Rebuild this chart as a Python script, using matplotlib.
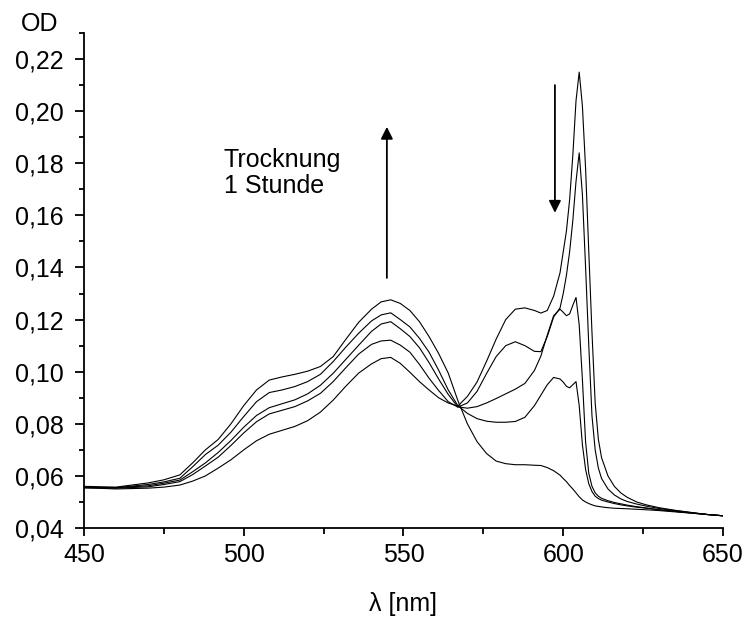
import matplotlib
matplotlib.use('Agg')
import matplotlib.pyplot as plt
from matplotlib.ticker import MultipleLocator, FuncFormatter

plt.rcParams['font.family'] = ['Liberation Sans', 'DejaVu Sans']

# wavelength grid [nm]
wavelength = [450, 460, 470, 475, 480, 484, 488, 492, 496, 500, 504, 508, 512, 516, 520,
              524, 528, 532, 536, 540, 543, 546, 549, 552, 555, 558, 561, 564, 567, 570,
              573, 576, 579, 582, 585, 588, 591, 593, 595, 597, 599, 600, 601, 602, 603,
              604, 605, 606, 607, 608, 609, 610, 611, 612, 614, 616, 618, 620, 623, 626,
              630, 635, 640, 645, 650]

# OD spectra (start -> after 1 h drying)
od_0h = [0.0555, 0.0550, 0.0553, 0.0557, 0.0565, 0.0580, 0.0600, 0.0630, 0.0662, 0.0700,
         0.0735, 0.0760, 0.0775, 0.0790, 0.0812, 0.0845, 0.0891, 0.0945, 0.0995, 0.1030,
         0.1050, 0.1055, 0.1032, 0.0998, 0.0962, 0.0930, 0.0900, 0.0880, 0.0868, 0.0905,
         0.0960, 0.1040, 0.1125, 0.1200, 0.1240, 0.1245, 0.1235, 0.1225, 0.1235, 0.1290,
         0.1380, 0.1460, 0.1540, 0.1660, 0.1830, 0.2040, 0.2150, 0.2020, 0.1780, 0.1460,
         0.1150, 0.0880, 0.0740, 0.0670, 0.0600, 0.0560, 0.0535, 0.0518, 0.0500, 0.0489,
         0.0478, 0.0468, 0.0460, 0.0452, 0.0447]
od_1 = [0.0555, 0.0553, 0.0558, 0.0567, 0.0578, 0.0605, 0.0638, 0.0672, 0.0717, 0.0765,
        0.0808, 0.0838, 0.0852, 0.0866, 0.0888, 0.0917, 0.0962, 0.1016, 0.1068, 0.1105,
        0.1118, 0.1121, 0.1102, 0.1075, 0.1028, 0.0975, 0.0928, 0.0885, 0.0864, 0.0880,
        0.0924, 0.0993, 0.1058, 0.1100, 0.1115, 0.1100, 0.1078, 0.1077, 0.1135, 0.1210,
        0.1245, 0.1300, 0.1370, 0.1460, 0.1580, 0.1730, 0.1840, 0.1680, 0.1400, 0.1100,
        0.0830, 0.0700, 0.0630, 0.0590, 0.0550, 0.0527, 0.0512, 0.0502, 0.0492, 0.0484,
        0.0475, 0.0467, 0.0459, 0.0452, 0.0447]
od_2 = [0.0555, 0.0555, 0.0562, 0.0572, 0.0584, 0.0616, 0.0650, 0.0690, 0.0736, 0.0787,
        0.0832, 0.0862, 0.0877, 0.0892, 0.0915, 0.0948, 0.0994, 0.1048, 0.1102, 0.1155,
        0.1183, 0.1192, 0.1165, 0.1135, 0.1092, 0.1035, 0.0972, 0.0913, 0.0865, 0.0860,
        0.0866, 0.0880, 0.0897, 0.0915, 0.0933, 0.0955, 0.1005, 0.1060, 0.1140, 0.1215,
        0.1240, 0.1228, 0.1215, 0.1222, 0.1255, 0.1285, 0.1180, 0.0970, 0.0730, 0.0610,
        0.0560, 0.0535, 0.0522, 0.0514, 0.0505, 0.0498, 0.0493, 0.0488, 0.0482, 0.0477,
        0.0470, 0.0464, 0.0458, 0.0452, 0.0447]
od_3 = [0.0555, 0.0555, 0.0567, 0.0577, 0.0591, 0.0635, 0.0682, 0.0718, 0.0768, 0.0828,
        0.0885, 0.0920, 0.0930, 0.0943, 0.0962, 0.0990, 0.1039, 0.1095, 0.1148, 0.1195,
        0.1218, 0.1226, 0.1200, 0.1172, 0.1128, 0.1075, 0.1006, 0.0930, 0.0870, 0.0840,
        0.0820, 0.0810, 0.0806, 0.0806, 0.0809, 0.0825, 0.0870, 0.0910, 0.0950, 0.0978,
        0.0972, 0.0960, 0.0944, 0.0938, 0.0950, 0.0962, 0.0870, 0.0720, 0.0625, 0.0570,
        0.0540, 0.0522, 0.0513, 0.0507, 0.0500, 0.0494, 0.0489, 0.0485, 0.0480, 0.0476,
        0.0470, 0.0464, 0.0458, 0.0452, 0.0447]
od_1h = [0.0560, 0.0557, 0.0573, 0.0585, 0.0604, 0.0650, 0.0700, 0.0740, 0.0800, 0.0870,
         0.0930, 0.0968, 0.0980, 0.0990, 0.1002, 0.1020, 0.1058, 0.1125, 0.1190, 0.1240,
         0.1268, 0.1276, 0.1262, 0.1235, 0.1192, 0.1135, 0.1070, 0.0995, 0.0890, 0.0800,
         0.0732, 0.0686, 0.0657, 0.0647, 0.0643, 0.0643, 0.0641, 0.0640, 0.0632, 0.0620,
         0.0603, 0.0590, 0.0578, 0.0563, 0.0550, 0.0535, 0.0520, 0.0508, 0.0500, 0.0494,
         0.0489, 0.0485, 0.0483, 0.0481, 0.0478, 0.0476, 0.0475, 0.0474, 0.0472, 0.0470,
         0.0467, 0.0462, 0.0457, 0.0452, 0.0447]

spectra = [od_0h, od_1, od_2, od_3, od_1h]


def comma_fmt(v, pos):
    return f'{v:.2f}'.replace('.', ',')


fig = plt.figure(figsize=(7.52, 6.17), dpi=100)
ax = fig.add_axes([0.1117, 0.1442, 0.8497, 0.8023])

for od in spectra:
    ax.plot(wavelength, od, color='black', lw=0.8)

ax.set_xlim(450, 650)
ax.set_ylim(0.04, 0.23)

ax.spines['top'].set_visible(False)
ax.spines['right'].set_visible(False)
ax.spines['left'].set_linewidth(1.3)
ax.spines['bottom'].set_linewidth(1.3)

ax.xaxis.set_major_locator(MultipleLocator(50))
ax.xaxis.set_minor_locator(MultipleLocator(25))
ax.yaxis.set_major_locator(MultipleLocator(0.02))
ax.yaxis.set_minor_locator(MultipleLocator(0.01))
ax.yaxis.set_major_formatter(FuncFormatter(comma_fmt))

ax.tick_params(axis='y', which='major', length=6.5, width=1.3, pad=8, labelsize=18)
ax.tick_params(axis='y', which='minor', length=3.6, width=1.3)
ax.tick_params(axis='x', which='major', length=6, width=1.3, pad=5, labelsize=18)
ax.tick_params(axis='x', which='minor', length=4.5, width=1.3)

ax.set_xlabel('λ [nm]', fontsize=18, labelpad=18)
fig.text(0.053, 0.961, 'OD', fontsize=18, ha='center', va='center')

# arrows: 545 nm band grows, 605 nm band drops
ax.annotate('', xy=(544.8, 0.194), xytext=(544.8, 0.136),
            arrowprops=dict(arrowstyle='-|>', color='black', lw=1.3,
                            mutation_scale=18, shrinkA=0, shrinkB=0))
ax.annotate('', xy=(597.4, 0.161), xytext=(597.4, 0.210),
            arrowprops=dict(arrowstyle='-|>', color='black', lw=1.3,
                            mutation_scale=18, shrinkA=0, shrinkB=0))
ax.text(493.8, 0.186, 'Trocknung\n1 Stunde', fontsize=18, ha='left', va='top',
        linespacing=1.15)

fig.savefig('out.png', dpi=100)
